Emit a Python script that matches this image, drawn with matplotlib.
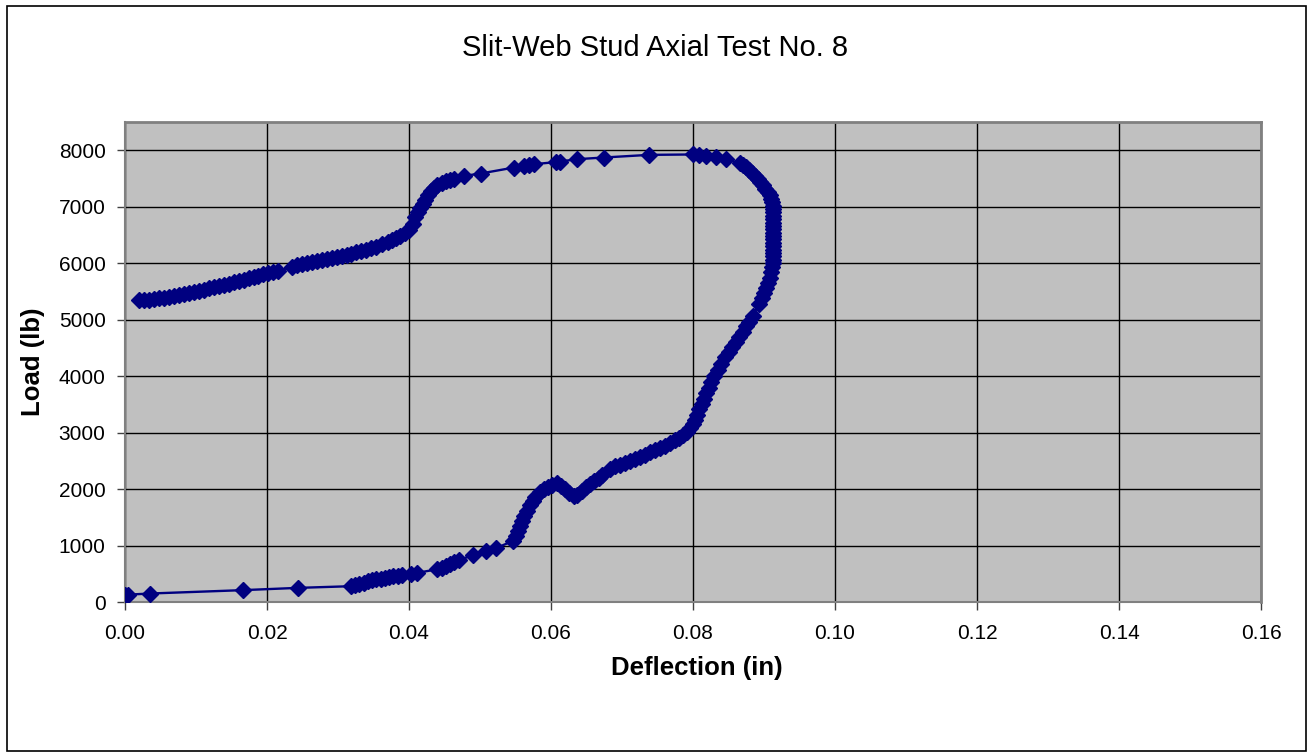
import matplotlib
matplotlib.use("Agg")
import matplotlib.pyplot as plt
from matplotlib.patches import Rectangle

plt.rcParams['font.family'] = ['Liberation Sans', 'DejaVu Sans']

title = "Slit-Web Stud Axial Test No. 8"
x_label = "Deflection (in)"
y_label = "Load (lb)"
x_ticks = [0.00, 0.02, 0.04, 0.06, 0.08, 0.10, 0.12, 0.14, 0.16]
y_ticks = [0, 1000, 2000, 3000, 4000, 5000, 6000, 7000, 8000]

# Loading branch (lower curve)
defl_lower = [0.0000, 0.0004, 0.0035, 0.0166, 0.0243, 0.0319, 0.0324, 0.0330, 0.0336, 0.0342,
              0.0348, 0.0354, 0.0360, 0.0366, 0.0372, 0.0378, 0.0384, 0.0390, 0.0403, 0.0411,
              0.0440, 0.0446, 0.0452, 0.0458, 0.0464, 0.0470, 0.0490, 0.0508, 0.0522, 0.0546,
              0.0550, 0.0553, 0.0556, 0.0559, 0.0562, 0.0566, 0.0570, 0.0574, 0.0578, 0.0584,
              0.0590, 0.0596, 0.0602, 0.0608, 0.0614, 0.0620, 0.0626, 0.0632, 0.0637, 0.0643,
              0.0649, 0.0655, 0.0661, 0.0667, 0.0672, 0.0683, 0.0690, 0.0697, 0.0704, 0.0711,
              0.0718, 0.0725, 0.0732, 0.0739, 0.0746, 0.0753, 0.0760, 0.0767, 0.0774, 0.0780,
              0.0786, 0.0791, 0.0796, 0.0800, 0.0803, 0.0806, 0.0809, 0.0812, 0.0816, 0.0819,
              0.0822, 0.0826, 0.0830, 0.0835, 0.0840, 0.0845, 0.0850, 0.0855, 0.0860, 0.0865,
              0.0870, 0.0875, 0.0879, 0.0884, 0.0893, 0.0897, 0.0900, 0.0903, 0.0906, 0.0908,
              0.0910, 0.0911, 0.0912]
load_lower = [120, 130, 150, 210, 250, 280, 300, 320, 345, 365,
              385, 400, 415, 430, 445, 455, 465, 475, 500, 515,
              580, 600, 630, 665, 705, 740, 830, 900, 950, 1080,
              1170, 1250, 1340, 1430, 1520, 1620, 1710, 1790, 1860, 1940,
              2000, 2040, 2070, 2100, 2060, 2000, 1930, 1870, 1900, 1960,
              2030, 2090, 2150, 2200, 2250, 2360, 2400, 2430, 2460, 2500,
              2530, 2570, 2610, 2650, 2690, 2730, 2770, 2810, 2860, 2910,
              2960, 3010, 3080, 3150, 3230, 3320, 3420, 3500, 3600, 3700,
              3790, 3900, 4000, 4110, 4220, 4330, 4420, 4510, 4600, 4690,
              4780, 4880, 4960, 5060, 5280, 5380, 5470, 5560, 5650, 5740,
              5850, 5930, 6000]

# Near-vertical segment and peak
defl_peak = [0.0912, 0.0913, 0.0913, 0.0913, 0.0913, 0.0913, 0.0913, 0.0913, 0.0913, 0.0913,
             0.0913, 0.0913, 0.0913, 0.0913, 0.0913, 0.0912, 0.0912, 0.0911, 0.0910, 0.0908,
             0.0905, 0.0902, 0.0899, 0.0895, 0.0891, 0.0887, 0.0883, 0.0879, 0.0875, 0.0870,
             0.0866, 0.0846, 0.0833, 0.0819, 0.0808, 0.0800, 0.0738, 0.0674, 0.0636, 0.0613,
             0.0607, 0.0576, 0.0569, 0.0562, 0.0548, 0.0501, 0.0478, 0.0464]
load_peak = [6060, 6120, 6180, 6240, 6300, 6360, 6420, 6480, 6540, 6600,
             6660, 6720, 6780, 6840, 6900, 6960, 7020, 7080, 7140, 7200,
             7260, 7320, 7380, 7440, 7490, 7550, 7600, 7650, 7700, 7740,
             7770, 7841, 7882, 7900, 7918, 7925, 7918, 7871, 7841, 7800,
             7790, 7753, 7741, 7724, 7694, 7588, 7547, 7488]

# Upper curve back to the left
defl_upper = [0.0458, 0.0452, 0.0446, 0.0440, 0.0435, 0.0431, 0.0427, 0.0423, 0.0420, 0.0416,
              0.0413, 0.0409, 0.0405, 0.0400, 0.0394, 0.0388, 0.0382, 0.0376, 0.0370, 0.0362,
              0.0354, 0.0347, 0.0340, 0.0333, 0.0326, 0.0319, 0.0312, 0.0305, 0.0298, 0.0291,
              0.0284, 0.0277, 0.0270, 0.0263, 0.0256, 0.0249, 0.0242, 0.0235, 0.0216, 0.0209,
              0.0202, 0.0195, 0.0188, 0.0181, 0.0174, 0.0167, 0.0160, 0.0153, 0.0146, 0.0139,
              0.0132, 0.0125, 0.0118, 0.0111, 0.0104, 0.0097, 0.0090, 0.0083, 0.0076, 0.0069,
              0.0062, 0.0055, 0.0048, 0.0041, 0.0034, 0.0027, 0.0020]
load_upper = [7470, 7447, 7420, 7390, 7340, 7280, 7200, 7120, 7050, 6970,
              6900, 6810, 6700, 6590, 6530, 6480, 6440, 6410, 6380, 6340,
              6295, 6265, 6235, 6210, 6190, 6165, 6150, 6130, 6115, 6095,
              6075, 6055, 6035, 6018, 6000, 5980, 5960, 5930, 5870, 5845,
              5820, 5800, 5775, 5755, 5735, 5710, 5690, 5670, 5640, 5620,
              5600, 5575, 5555, 5530, 5510, 5495, 5475, 5455, 5440, 5420,
              5405, 5390, 5375, 5365, 5355, 5350, 5340]

deflection = defl_lower + defl_peak + defl_upper
load = load_lower + load_peak + load_upper

W, H = 1310, 753
fig = plt.figure(figsize=(W / 100, H / 100), dpi=100)
fig.patch.set_facecolor('white')

left, right, top, bottom = 125, 1261, 122, 602
ax = fig.add_axes([left / W, 1 - bottom / H, (right - left) / W, (bottom - top) / H])
ax.set_facecolor('#C0C0C0')

ax.plot(deflection, load, color='#000080', linewidth=1.7, marker='D',
        markersize=7.8, markerfacecolor='#000080', markeredgecolor='#000080', zorder=3)

ax.set_xlim(0, 0.16)
ax.set_ylim(0, 8500)
ax.set_xticks(x_ticks)
ax.set_xticklabels([f"{t:.2f}" for t in x_ticks])
ax.set_yticks(y_ticks)
ax.set_yticklabels([str(t) for t in y_ticks])
ax.grid(True, color='black', linewidth=1.0, zorder=1)
ax.set_axisbelow(True)

for s in ['top', 'right']:
    ax.spines[s].set_color('#808080')
    ax.spines[s].set_linewidth(2.0)
for s in ['left', 'bottom']:
    ax.spines[s].set_color('#808080')
    ax.spines[s].set_linewidth(1.5)

ax.tick_params(axis='both', which='major', labelsize=15, length=6, width=1.0,
               color='#404040', direction='out', labelcolor='black')
ax.tick_params(axis='x', pad=10)
ax.tick_params(axis='y', pad=8)

ax.set_xlabel(x_label, fontsize=18.5, fontweight='bold')
ax.xaxis.label.set_va('center')
ax.xaxis.set_label_coords(0.503, -0.137)
ax.set_ylabel(y_label, fontsize=18.5, fontweight='bold')
ax.yaxis.label.set_va('center')
ax.yaxis.set_label_coords(-0.081, 0.5)

fig.text(0.5, 1 - 48 / H, title, fontsize=21, ha='center', va='center')

fig.patches.append(Rectangle((6.5 / W, 1 - 751 / H), (1305.5 - 6.5) / W, (751 - 6) / H,
                             transform=fig.transFigure, fill=False, edgecolor='black',
                             linewidth=1.2, zorder=0))

fig.savefig('out.png', dpi=100)
